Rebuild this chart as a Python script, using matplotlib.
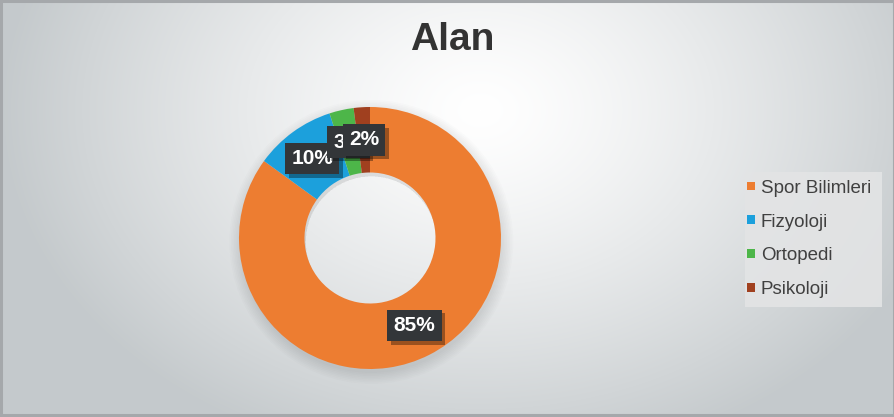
import numpy as np
import matplotlib
matplotlib.use("Agg")
import matplotlib.pyplot as plt
from matplotlib import patheffects
from matplotlib.patches import Rectangle, Wedge

plt.rcParams['font.family'] = ['Liberation Sans', 'DejaVu Sans']

# данные
categories = ["Spor Bilimleri", "Fizyoloji", "Ortopedi", "Psikoloji"]
values = [85, 10, 3, 2]
colors = ["#ED7D31", "#1CA0DC", "#4DB649", "#A0401F"]
title = "Alan"

W, H = 895, 417
fig = plt.figure(figsize=(W / 100, H / 100), dpi=100)

# фон: радиальный градиент
bg = fig.add_axes([0, 0, 1, 1])
yy, xx = np.mgrid[0:H, 0:W]
d = np.sqrt(((xx - 480) / 480.0) ** 2 + ((yy - 110) / 360.0) ** 2)
d = np.clip(d, 0, 1) ** 1.3
c0 = np.array([1.0, 1.0, 1.0])
c1 = np.array([0.77, 0.79, 0.80])
img = c0[None, None, :] * (1 - d[..., None]) + c1[None, None, :] * d[..., None]
bg.imshow(img, extent=(0, W, H, 0), aspect="auto", interpolation="bilinear")
bg.set_xlim(0, W)
bg.set_ylim(H, 0)
bg.axis("off")
bg.add_patch(Rectangle((1, 1), W - 2, H - 3, fill=False, edgecolor="#a5a8ab", linewidth=2.2))
# рамка легенды
bg.add_patch(Rectangle((745, 172), 137, 135, facecolor="#e3e4e5", edgecolor="none", alpha=0.9))

# кольцевая диаграмма
cx, cy, r = 370, 417 - 238, 131
ax = fig.add_axes([(cx - r) / W, (cy - r) / H, 2 * r / W, 2 * r / H])
ax.set_facecolor("none")

# мягкая тень под кольцом
for k in range(8):
    ax.add_patch(Wedge((0.01, -0.03), 1.0 + 0.012 * k, 0, 360, width=0.5 + 0.012 * k,
                       facecolor="black", edgecolor="none", alpha=0.012,
                       zorder=0, clip_on=False))

wedges, texts, autotexts = ax.pie(
    values, colors=colors, startangle=90, counterclock=False,
    radius=1.0, autopct="%1.0f%%", pctdistance=0.75,
    wedgeprops=dict(width=0.5, linewidth=0),
    textprops=dict(color="white", fontsize=15, fontweight="bold"))
for w in wedges:
    w.set_zorder(2)
ax.set_xlim(-1, 1)
ax.set_ylim(-1, 1)
ax.set_aspect("equal")
ax.axis("off")

for t in autotexts:
    t.set_zorder(5)
    t.set_bbox(dict(boxstyle="square,pad=0.3", facecolor="#333639", edgecolor="none"))
    t.get_bbox_patch().set_path_effects([
        patheffects.withSimplePatchShadow(offset=(2.5, -2.5), shadow_rgbFace="#000000", alpha=0.35),
        patheffects.Normal()])

fig.text(452 / W, 1 - 40 / H, title, ha="center", va="center",
         fontsize=28, fontweight="bold", color="#333333")

leg = fig.legend(wedges, categories, loc="center left",
                 bbox_to_anchor=(745 / W, 1 - 239 / H),
                 fontsize=13.5, frameon=False,
                 handlelength=0.45, handleheight=0.35, handletextpad=0.3,
                 labelspacing=0.9, borderpad=0.1, borderaxespad=0)
for t in leg.get_texts():
    t.set_color("#404040")

fig.savefig("out.png", dpi=100)
